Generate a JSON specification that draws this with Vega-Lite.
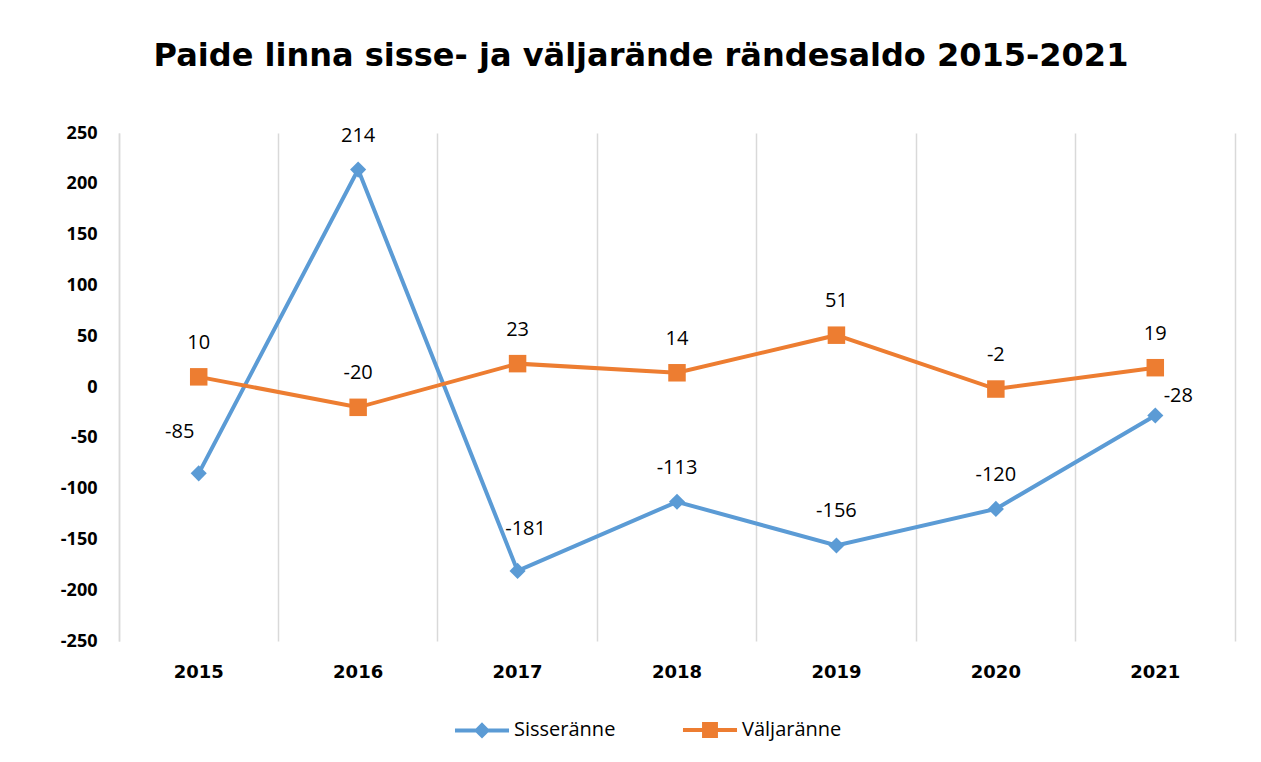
{
  "$schema": "https://vega.github.io/schema/vega-lite/v6.json",
  "width": 1116,
  "height": 508,
  "autosize": {"type": "none"},
  "padding": {"left": 119, "top": 133, "right": 26, "bottom": 121},
  "background": "white",
  "title": {
    "text": "Paide linna sisse- ja väljarände rändesaldo 2015-2021",
    "font": "DejaVu Sans",
    "fontWeight": "bold",
    "fontSize": 32,
    "color": "#000000",
    "anchor": "middle",
    "dx": -36,
    "baseline": "alphabetic",
    "offset": 26
  },
  "config": {
    "view": {"stroke": null},
    "axis": {"labelColor": "#000000"}
  },
  "data": {
    "values": [
      {"year": "2015", "series": "Sisseränne", "value": -85},
      {"year": "2016", "series": "Sisseränne", "value": 214},
      {"year": "2017", "series": "Sisseränne", "value": -181},
      {"year": "2018", "series": "Sisseränne", "value": -113},
      {"year": "2019", "series": "Sisseränne", "value": -156},
      {"year": "2020", "series": "Sisseränne", "value": -120},
      {"year": "2021", "series": "Sisseränne", "value": -28},
      {"year": "2015", "series": "Väljaränne", "value": 10},
      {"year": "2016", "series": "Väljaränne", "value": -20},
      {"year": "2017", "series": "Väljaränne", "value": 23},
      {"year": "2018", "series": "Väljaränne", "value": 14},
      {"year": "2019", "series": "Väljaränne", "value": 51},
      {"year": "2020", "series": "Väljaränne", "value": -2},
      {"year": "2021", "series": "Väljaränne", "value": 19}
    ]
  },
  "encoding": {
    "x": {
      "field": "year",
      "type": "ordinal",
      "scale": {"type": "band", "paddingInner": 0, "paddingOuter": 0},
      "axis": {
        "title": null,
        "labelAngle": 0,
        "bandPosition": 0,
        "grid": true,
        "gridColor": "#D9D9D9",
        "gridWidth": 1.5,
        "ticks": false,
        "tickSize": 0,
        "domain": false,
        "labelPadding": 22,
        "labelFont": "DejaVu Sans",
        "labelFontWeight": "bold",
        "labelFontSize": 18,
        "labelBaseline": "top",
        "labelAlign": "center",
        "labelOffset": 0
      }
    }
  },
  "resolve": {"axis": {"y": "independent"}},
  "layer": [
    {
      "mark": {"type": "rule", "color": "#D9D9D9", "strokeWidth": 1.5},
      "encoding": {
        "y": {
          "datum": 0,
          "type": "quantitative",
          "scale": {"domain": [-250, 250]},
          "axis": {
            "orient": "right",
            "title": null,
            "labels": false,
            "ticks": false,
            "grid": false,
            "domain": true,
            "domainColor": "#D9D9D9",
            "domainWidth": 1.5
          }
        }
      }
    },
    {
      "mark": {"type": "line", "strokeWidth": 4},
      "encoding": {
        "y": {
          "field": "value",
          "type": "quantitative",
          "scale": {"domain": [-250, 250]},
          "axis": {
            "orient": "left",
            "title": null,
            "values": [-250, -200, -150, -100, -50, 0, 50, 100, 150, 200, 250],
            "labelExpr": "'' + datum.value",
            "grid": false,
            "ticks": false,
            "tickSize": 0,
            "domain": true,
            "domainColor": "#D9D9D9",
            "domainWidth": 1.5,
            "labelPadding": 22,
            "labelFont": "Open Sans",
            "labelFontWeight": "bold",
            "labelFontSize": 18
          }
        },
        "color": {
          "field": "series",
          "type": "nominal",
          "scale": {"domain": ["Sisseränne", "Väljaränne"], "range": ["#5B9BD5", "#ED7D31"]},
          "legend": {
            "title": null,
            "orient": "none",
            "direction": "horizontal",
            "legendX": 353,
            "legendY": 587,
            "padding": 0,
            "symbolSize": 196,
            "symbolStrokeWidth": 4,
            "labelOffset": 22,
            "columnPadding": 58,
            "labelFont": "Open Sans",
            "labelFontSize": 20,
            "labelColor": "#000000",
            "labelBaseline": "middle",
            "encode": {
              "symbols": {
                "update": {
                  "shape": {"signal": "datum.value === 'Sisseränne' ? 'M-3.86,0H3.86M0,-0.75L0.75,0L0,0.75L-0.75,0Z' : 'M-3.86,0H3.86M-0.85,-0.85H0.85V0.85H-0.85Z'"},
                  "stroke": {"scale": "color", "field": "value"},
                  "fill": {"scale": "color", "field": "value"},
                  "strokeWidth": {"value": 4},
                  "opacity": {"value": 1}
                }
              }
            }
          }
        }
      }
    },
    {
      "transform": [{"filter": "datum.series === 'Sisseränne'"}],
      "mark": {"type": "point", "filled": true, "opacity": 1, "shape": "diamond", "size": 260},
      "encoding": {
        "y": {"field": "value", "type": "quantitative", "axis": null},
        "color": {"field": "series", "type": "nominal"}
      }
    },
    {
      "transform": [{"filter": "datum.series === 'Väljaränne'"}],
      "mark": {"type": "point", "filled": true, "opacity": 1, "shape": "square", "size": 306},
      "encoding": {
        "y": {"field": "value", "type": "quantitative", "axis": null},
        "color": {"field": "series", "type": "nominal"}
      }
    },
    {
      "transform": [{"filter": "datum.series === 'Väljaränne' || (datum.year !== '2015' && datum.year !== '2017' && datum.year !== '2021')"}],
      "mark": {"type": "text", "font": "Open Sans", "fontSize": 20, "color": "#000000", "baseline": "middle", "dy": -34},
      "encoding": {
        "y": {"field": "value", "type": "quantitative", "axis": null},
        "text": {"field": "value", "type": "nominal"}
      }
    },
    {
      "transform": [{"filter": "datum.series === 'Sisseränne' && datum.year === '2015'"}],
      "mark": {"type": "text", "font": "Open Sans", "fontSize": 20, "color": "#000000", "baseline": "middle", "dx": -19, "dy": -41},
      "encoding": {
        "y": {"field": "value", "type": "quantitative", "axis": null},
        "text": {"field": "value", "type": "nominal"}
      }
    },
    {
      "transform": [{"filter": "datum.series === 'Sisseränne' && datum.year === '2017'"}],
      "mark": {"type": "text", "font": "Open Sans", "fontSize": 20, "color": "#000000", "baseline": "middle", "dx": 8, "dy": -42},
      "encoding": {
        "y": {"field": "value", "type": "quantitative", "axis": null},
        "text": {"field": "value", "type": "nominal"}
      }
    },
    {
      "transform": [{"filter": "datum.series === 'Sisseränne' && datum.year === '2021'"}],
      "mark": {"type": "text", "font": "Open Sans", "fontSize": 20, "color": "#000000", "baseline": "middle", "dx": 23, "dy": -19},
      "encoding": {
        "y": {"field": "value", "type": "quantitative", "axis": null},
        "text": {"field": "value", "type": "nominal"}
      }
    }
  ]
}
